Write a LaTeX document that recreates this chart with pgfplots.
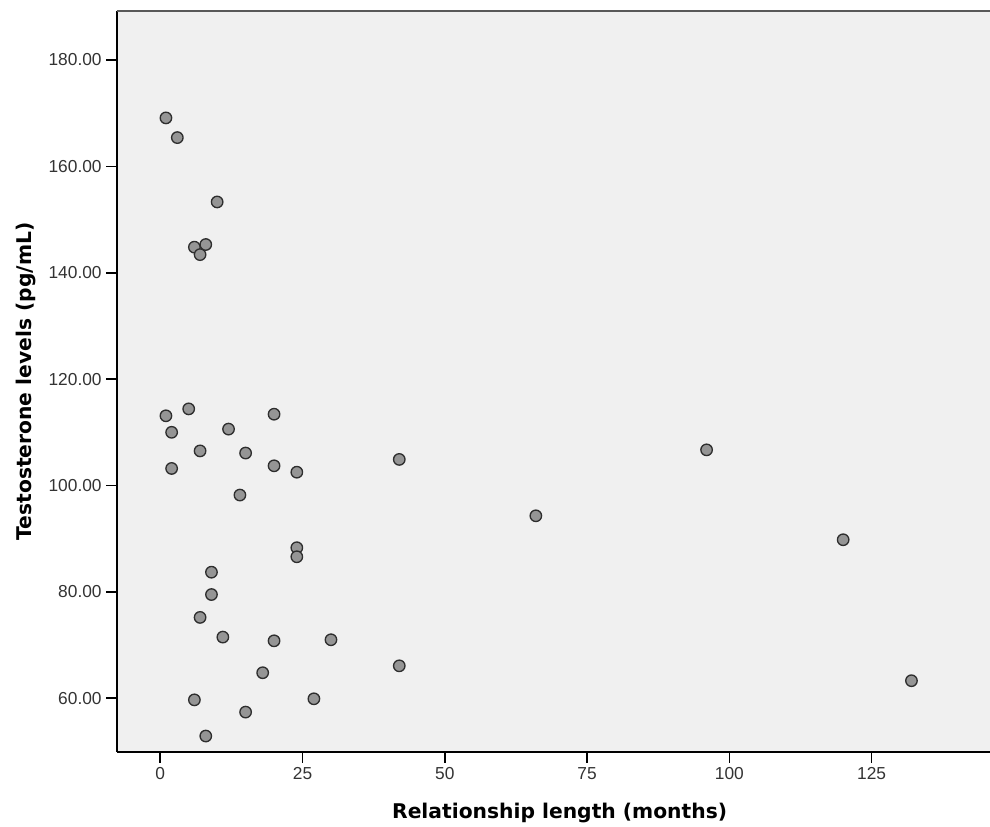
\documentclass[border=0pt]{standalone}
\usepackage{fontspec}
\setmainfont{Liberation Sans}
\newfontfamily\labelfont{DejaVu Sans}
\usepackage{pgfplots}
\pgfplotsset{compat=1.18}

\definecolor{bgc}{HTML}{F0F0F0}
\definecolor{dotfill}{HTML}{959595}
\definecolor{dotline}{HTML}{2E2E2E}
\definecolor{tickc}{HTML}{333333}

\begin{document}
\begin{tikzpicture}
\begin{axis}[
    scale only axis,
    width=654.75pt, height=555.75pt,
    xmin=-7.6, xmax=145.8,
    ymin=49.9, ymax=189.2,
    axis lines*=left,
    x axis line style={-, line width=1.2pt, black},
    y axis line style={-, line width=1.2pt, black},
    axis background/.style={fill=bgc},
    xtick={0,25,50,75,100,125},
    ytick={60,80,...,180},
    tick align=outside,
    major tick length=8pt,
    tick style={line width=1.2pt, black},
    /pgf/number format/assume math mode=true,
    yticklabel style={/pgf/number format/.cd, fixed, fixed zerofill, precision=2, /tikz/.cd},
    ticklabel style={font=\fontsize{13}{15}\selectfont, text=tickc},
    xticklabel style={/pgf/number format/.cd, fixed, precision=0, /tikz/.cd},
    xlabel={Relationship length (months)},
    ylabel={Testosterone levels (pg/mL)},
    label style={font=\labelfont\bfseries\fontsize{15.2}{18}\selectfont},
    xlabel style={at={(axis description cs:0.507,-0.0823)}, anchor=center},
    ylabel style={at={(axis description cs:-0.1042,0.5)}, anchor=center, rotate=0},
]
\addplot[only marks, mark=*, mark size=4.3pt,
    mark options={fill=dotfill, draw=dotline, line width=1.0pt}]
  table {
x y
1 169.1
3 165.4
10 153.3
6 144.8
8 145.3
7 143.4
1 113.1
5 114.4
2 110.0
2 103.2
12 110.6
7 106.5
15 106.1
20 113.4
20 103.7
24 102.5
14 98.2
24 88.3
24 86.6
9 83.7
9 79.5
7 75.2
11 71.5
20 70.8
30 71.0
18 64.8
6 59.7
27 59.9
15 57.4
8 52.9
42 104.9
66 94.3
42 66.1
96 106.7
120 89.8
132 63.3
  };
\draw[line width=1.2pt, gray!70!black] (rel axis cs:0,1) -- (rel axis cs:1,1);
\end{axis}
\pgfresetboundingbox
\path[use as bounding box] (-87.75pt,-56.25pt) rectangle (654.75pt,564pt);
\end{tikzpicture}
\end{document}
